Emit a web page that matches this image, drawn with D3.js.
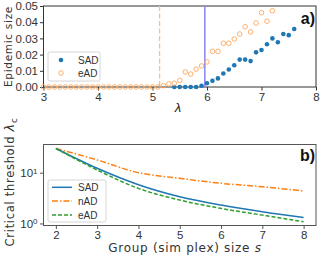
<!DOCTYPE html>
<html><head><meta charset="utf-8">
<script src="https://cdn.jsdelivr.net/npm/d3@7"></script>
<style>
body{margin:0;background:#fff;}
svg text{font-family:"Liberation Sans",Arial,sans-serif;}
.lab{font-family:"DejaVu Sans",sans-serif;letter-spacing:0.7px;fill:#333;}
</style></head>
<body><svg id="c" width="321" height="256"></svg>
<script>
// ---------- Panel a data ----------
const lambdaEAD = [3.0,3.1,3.2,3.3,3.4,3.5,3.6,3.7,3.8,3.9,4.0,4.1,4.2,4.3,4.4,4.5,4.6,4.7,4.8,4.9,5.0,5.1,
  5.2,5.3,5.4,5.5,5.6,5.7,5.8,5.9,6.0,6.1,6.2,6.3,6.4,6.5,6.6,6.7,6.8,6.9,7.0,7.1,7.2];
const sizeEAD = [0,0,0,0,0,0,0,0,0,0,0,0,0,0,0,0,0,0,0,0,0,0,
  0.0008,0.0019,0.0023,0.0041,0.0093,0.008,0.011,0.013,0.0155,0.022,0.022,0.027,0.027,0.0296,0.0327,0.0372,0.034,0.0395,0.0459,0.0406,0.0471];
const lambdaSAD = [5.4,5.5,5.6,5.7,5.8,5.9,6.0,6.1,6.2,6.3,6.4,6.5,6.6,6.7,6.8,6.9,7.0,7.1,7.2,7.3,7.4,7.5,7.6];
const sizeSAD = [0,0,0,0,0,0.0008,0.0023,0.0038,0.0053,0.0083,0.0108,0.0134,0.0169,0.0169,0.016,0.0214,0.0228,0.0264,0.030,0.0276,0.0327,0.032,0.0358];
const thresholdEAD = 5.13;
const thresholdSAD = 5.96;
const xTicksA = [3,4,5,6,7,8];
const yTicksA = [0,0.01,0.02,0.03,0.04,0.05];

// ---------- Panel b data ----------
const groupSize = [2,3,4,5,6,7,8];
const critSAD = [30,12.2,5.8,3.36,2.3,1.7,1.31];
const critNAD = [30,17.8,10.0,7.75,6.17,5.29,4.35];
const critEAD = [30,11.3,4.9,2.89,1.98,1.46,1.08];
const xTicksB = [2,3,4,5,6,7,8];
const yTicksB = [1,10];

const svg = d3.select("#c");
const spineCol = "#333";
const tickTxt = "#333";

// ===== Panel a =====
const ga = svg.append("g");
const xa = d3.scaleLinear().domain([3,8]).range([43.5,316]);
const ya = d3.scaleLinear().domain([0,0.05]).range([87,6]);

ga.append("g").attr("transform","translate(0,87)")
  .call(d3.axisBottom(xa).tickValues(xTicksA).tickFormat(d3.format("d")).tickSize(3.5).tickPadding(2))
  .call(g=>{g.select(".domain").remove();g.selectAll("line").attr("stroke",spineCol);
    g.selectAll("text").attr("font-size","11.5px").attr("fill",tickTxt);});
ga.append("g").attr("transform","translate(43.5,0)")
  .call(d3.axisLeft(ya).tickValues(yTicksA).tickFormat(d3.format(".2f")).tickSize(3.5).tickPadding(2))
  .call(g=>{g.select(".domain").remove();g.selectAll("line").attr("stroke",spineCol);
    g.selectAll("text").attr("font-size","11.5px").attr("fill",tickTxt);});
ga.append("rect").attr("x",43.5).attr("y",6).attr("width",316-43.5).attr("height",81)
  .attr("fill","none").attr("stroke",spineCol).attr("stroke-width",1);

// vertical lines
ga.append("line").attr("x1",xa(thresholdEAD)).attr("x2",xa(thresholdEAD)).attr("y1",ya(0.05)).attr("y2",ya(0))
  .attr("stroke","#ffbf80").attr("stroke-width",1.3).attr("stroke-dasharray","5,2.5");
ga.append("line").attr("x1",xa(thresholdSAD)).attr("x2",xa(thresholdSAD)).attr("y1",ya(0.05)).attr("y2",ya(0))
  .attr("stroke","#8585f5").attr("stroke-width",1.5);

ga.selectAll("circle.sad").data(lambdaSAD).join("circle").attr("class","sad")
  .attr("cx",d=>xa(d)).attr("cy",(d,i)=>ya(sizeSAD[i])).attr("r",2.3).attr("fill","#1f77b4");
ga.selectAll("circle.ead").data(lambdaEAD).join("circle").attr("class","ead")
  .attr("cx",d=>xa(d)).attr("cy",(d,i)=>ya(sizeEAD[i])).attr("r",2.3)
  .attr("fill","none").attr("stroke","#ffa75a").attr("stroke-width",0.9);

// legend a
const la = ga.append("g");
la.append("rect").attr("x",48).attr("y",52).attr("width",52).attr("height",29).attr("rx",2)
  .attr("fill","#fff").attr("fill-opacity",0.8).attr("stroke","#ccc").attr("stroke-width",0.8);
la.append("circle").attr("cx",61).attr("cy",60).attr("r",2.3).attr("fill","#1f77b4");
la.append("circle").attr("cx",61).attr("cy",73).attr("r",2.3).attr("fill","none").attr("stroke","#ffa75a").attr("stroke-width",0.9);
la.append("text").attr("x",78).attr("y",63.5).attr("font-size","10px").attr("fill",tickTxt).text("SAD");
la.append("text").attr("x",78).attr("y",76.5).attr("font-size","10px").attr("fill",tickTxt).text("eAD");

ga.append("text").attr("class","lab").attr("transform","translate(12,46.5) rotate(-90)")
  .attr("text-anchor","middle").attr("font-size","10.5px").text("Epidemic size");
ga.append("text").attr("x",178).attr("y",112).attr("text-anchor","middle")
  .attr("font-family","DejaVu Sans").attr("font-style","italic").attr("font-size","13px").attr("fill","#222").text("λ");
ga.append("text").attr("x",315).attr("y",24).attr("text-anchor","end")
  .attr("font-family","DejaVu Sans").attr("font-weight","bold").attr("font-size","16px").attr("fill","#111").text("a)");

// ===== Panel b =====
const gb = svg.append("g");
const xb = d3.scaleLinear().domain([1.7,8.3]).range([43.5,316]);
const yb = d3.scaleLog().domain([Math.pow(10,-0.04),Math.pow(10,1.555)]).range([225.5,144.5]);
const bCol = "#555";

gb.append("g").attr("transform","translate(0,225.5)")
  .call(d3.axisBottom(xb).tickValues(xTicksB).tickFormat(d3.format("d")).tickSize(3.5).tickPadding(2))
  .call(g=>{g.select(".domain").remove();g.selectAll("line").attr("stroke",bCol);
    g.selectAll("text").attr("font-size","11.5px").attr("fill",tickTxt);});
const yAxB = gb.append("g").attr("transform","translate(43.5,0)")
  .call(d3.axisLeft(yb).tickValues(yTicksB).tickFormat("").tickSize(3.5))
  .call(g=>{g.select(".domain").remove();g.selectAll("line").attr("stroke",bCol);});
yAxB.selectAll(".tick").each(function(d){
  const t = d3.select(this).append("text").attr("x",-6).attr("dy","0.35em").attr("text-anchor","end")
    .attr("font-size","11.5px").attr("fill",tickTxt);
  t.append("tspan").text("10");
  t.append("tspan").attr("dy","-0.45em").attr("font-size","8px").text(Math.round(Math.log10(d)));
});
gb.append("rect").attr("x",43.5).attr("y",144.5).attr("width",316-43.5).attr("height",81)
  .attr("fill","none").attr("stroke",bCol).attr("stroke-width",1);

const line = arr => d3.line().x((d,i)=>xb(groupSize[i])).y(d=>yb(d)).curve(d3.curveMonotoneX)(arr);
gb.append("path").attr("d",line(critNAD)).attr("fill","none").attr("stroke","#ff7f0e").attr("stroke-width",1.5)
  .attr("stroke-dasharray","6,2,1.5,2");
gb.append("path").attr("d",line(critSAD)).attr("fill","none").attr("stroke","#1f77b4").attr("stroke-width",1.5);
gb.append("path").attr("d",line(critEAD)).attr("fill","none").attr("stroke","#2ca02c").attr("stroke-width",1.5)
  .attr("stroke-dasharray","4,2");

// legend b
const lb = gb.append("g");
lb.append("rect").attr("x",48).attr("y",180).attr("width",58).attr("height",42).attr("rx",2)
  .attr("fill","#fff").attr("fill-opacity",0.8).attr("stroke","#ccc").attr("stroke-width",0.8);
const legB = [["SAD","#1f77b4",null,187.3],["nAD","#ff7f0e","6,2,1.5,2",201],["eAD","#2ca02c","4,2",215]];
legB.forEach(([n,c,da,y])=>{
  const l = lb.append("line").attr("x1",52).attr("x2",72).attr("y1",y).attr("y2",y).attr("stroke",c).attr("stroke-width",1.5);
  if(da) l.attr("stroke-dasharray",da);
  lb.append("text").attr("x",78).attr("y",y+3.5).attr("font-size","10px").attr("fill",tickTxt).text(n);
});

const yl = gb.append("text").attr("class","lab").attr("transform","translate(14,182) rotate(-90)")
  .attr("text-anchor","middle").attr("font-size","11.5px").attr("letter-spacing","0.9px");
yl.append("tspan").text("Critical threshold ");
yl.append("tspan").attr("font-style","italic").attr("font-size","13px").text("λ");
yl.append("tspan").attr("dy","0.35em").attr("font-size","8.5px").text("c");

const xl = gb.append("text").attr("class","lab").attr("x",185).attr("y",252).attr("text-anchor","middle").attr("font-size","12px");
xl.append("tspan").text("Group (sim plex) size ");
xl.append("tspan").attr("font-style","italic").text("s");

gb.append("text").attr("x",315).attr("y",161).attr("text-anchor","end")
  .attr("font-family","DejaVu Sans").attr("font-weight","bold").attr("font-size","16px").attr("fill","#111").text("b)");
</script></body></html>
